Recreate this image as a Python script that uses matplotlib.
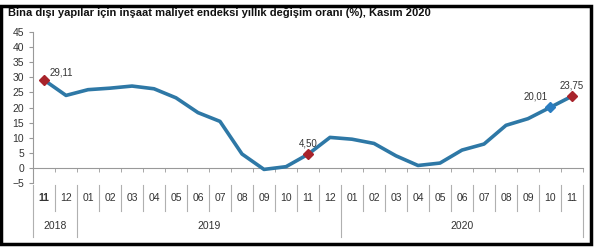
import matplotlib
matplotlib.use('Agg')
import matplotlib.pyplot as plt
from matplotlib.patches import Rectangle

plt.rcParams['font.family'] = ['Liberation Sans', 'DejaVu Sans']

# Data
months = ['11', '12', '01', '02', '03', '04', '05', '06', '07', '08', '09', '10',
          '11', '12', '01', '02', '03', '04', '05', '06', '07', '08', '09', '10', '11']
years = ['2018', '2019', '2020']
year_spans = [(0, 2), (2, 14), (14, 25)]
values = [29.11, 24.0, 25.9, 26.4, 27.1, 26.2, 23.2, 18.3, 15.4, 4.6, -0.5, 0.4,
          4.50, 10.1, 9.5, 8.1, 4.0, 0.8, 1.6, 5.9, 7.9, 14.1, 16.3, 20.01, 23.75]
red_points = [0, 12, 24]
blue_points = [23]
labels = {0: '29,11', 12: '4,50', 23: '20,01', 24: '23,75'}

line_color = '#2E78A6'
text_color = '#333333'

fig = plt.figure(figsize=(6, 2.5), dpi=100)
ax = fig.add_axes([33 / 600, 1 - 183 / 250, 550 / 600, 151 / 250])

x = list(range(len(values)))
ax.plot(x, values, color=line_color, lw=2.6, solid_joinstyle='round', zorder=3)
ax.plot([x[i] for i in red_points], [values[i] for i in red_points], 'D',
        color='#A8232B', ms=5.5, zorder=4)
ax.plot([x[i] for i in blue_points], [values[i] for i in blue_points], 'D',
        color='#2A7DC0', ms=5.5, zorder=4)

# data labels
ax.annotate(labels[0], (0, values[0]), xytext=(4, 2), textcoords='offset points',
            fontsize=7, color=text_color, ha='left', va='bottom')
ax.annotate(labels[12], (12, values[12]), xytext=(0, 4), textcoords='offset points',
            fontsize=7, color=text_color, ha='center', va='bottom')
ax.annotate(labels[23], (23, values[23]), xytext=(-2, 4), textcoords='offset points',
            fontsize=7, color=text_color, ha='right', va='bottom')
ax.annotate(labels[24], (24, values[24]), xytext=(0, 4), textcoords='offset points',
            fontsize=7, color=text_color, ha='center', va='bottom')

ax.set_xlim(-0.5, len(values) - 0.5)
ax.set_ylim(-5, 45)
ax.set_yticks(range(-5, 50, 5))
ax.tick_params(axis='y', labelsize=7.5, colors=text_color, length=3, color='#999999')

ax.spines['top'].set_visible(False)
ax.spines['right'].set_visible(False)
ax.spines['left'].set_color('#999999')
ax.spines['bottom'].set_color('#999999')
ax.spines['bottom'].set_position(('data', 0))
ax.set_xticks([])
ax.set_xticks([i + 0.5 for i in range(len(values))], minor=True)
ax.tick_params(axis='x', which='minor', length=3, color='#999999', labelbottom=False)

# category axis table below
year_edges = [s for s, e in year_spans] + [len(values)]
for i, m in enumerate(months):
    ax.text(i, -0.1, m, transform=ax.get_xaxis_transform(), ha='center', va='center',
            fontsize=7.5, color=text_color, fontweight='bold' if i == 0 else 'normal')
for b in range(len(values) + 1):
    pos = b - 0.5
    bottom = -0.358 if b in year_edges else -0.185
    ax.plot([pos, pos], [-0.015, bottom], transform=ax.get_xaxis_transform(),
            color='#B0B0B0', lw=0.8, clip_on=False)
for yr, (s, e) in zip(years, year_spans):
    ax.text((s + e - 1) / 2, -0.285, yr, transform=ax.get_xaxis_transform(),
            ha='center', va='center', fontsize=7.5, color=text_color)

fig.text(8 / 600, 1 - 13 / 250,
         'Bina dışı yapılar için inşaat maliyet endeksi yıllık değişim oranı (%), Kasım 2020',
         fontsize=8, fontweight='bold', color='#111111', ha='left', va='center')

# black frame around the chart
fig.patches.append(Rectangle((1 / 600, 1 - 244 / 250), 590 / 600, 238 / 250,
                             transform=fig.transFigure, fill=False,
                             edgecolor='black', lw=2.5))

fig.savefig('out.png', dpi=100)
